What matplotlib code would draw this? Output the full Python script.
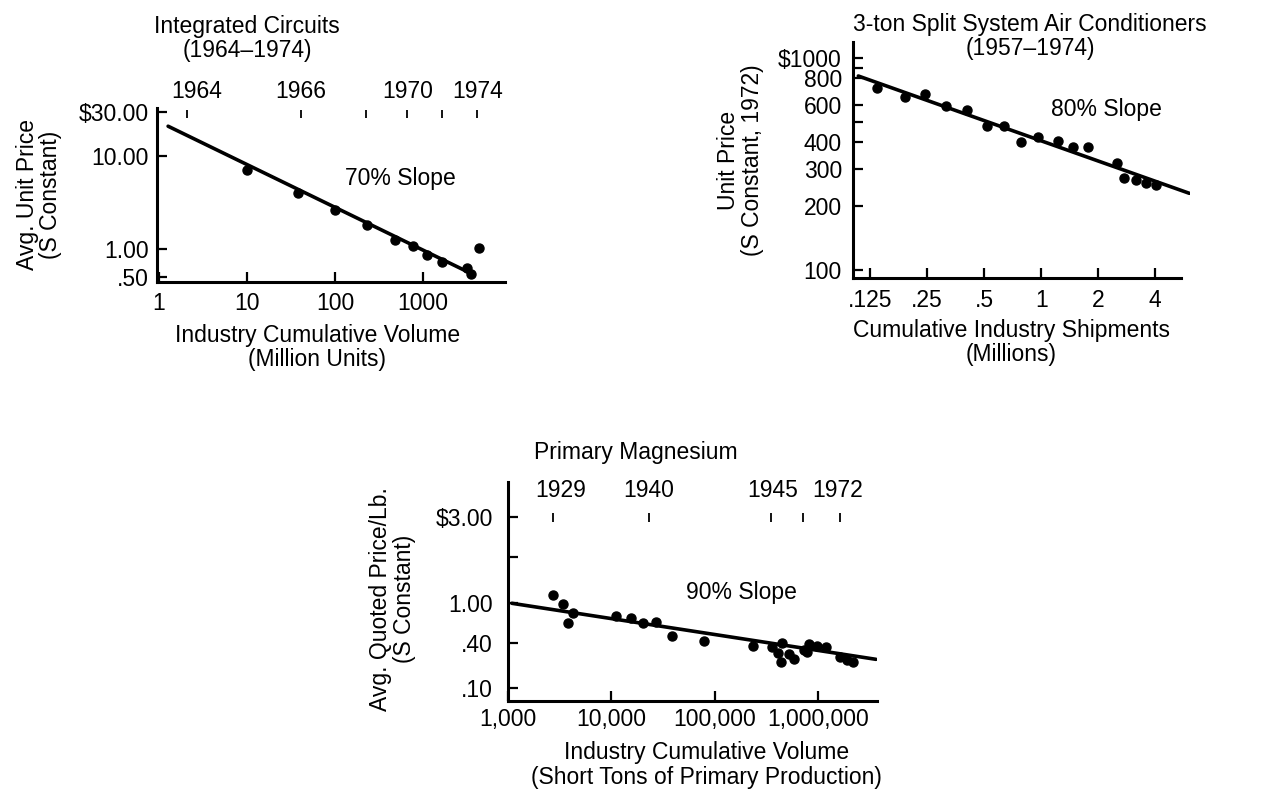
#!/usr/bin/env python3
"""Three experience curves: integrated circuits, air conditioners, magnesium."""
import numpy as np
import matplotlib
matplotlib.use('Agg')
import matplotlib.pyplot as plt
from matplotlib.ticker import NullLocator

plt.rcParams['font.family'] = ['Liberation Sans', 'DejaVu Sans']
plt.rcParams['font.size'] = 16.5

# --- Integrated circuits (1964-1974) ---
ic_volume = [10, 38, 100, 230, 480, 770, 1110, 1640, 3160, 3500, 4330]
ic_price = [7.07, 4.0, 2.63, 1.81, 1.25, 1.08, 0.86, 0.72, 0.62, 0.54, 1.02]
ic_fit_volume = [1.27, 3700]
ic_fit_price = [21, 0.53]
ic_year_tick_volume = [2.08, 41, 225, 660, 1650, 4100]
ic_year_labels = ['1964', '1966', '1970', '1974']
ic_year_label_volume = [2.7, 41, 660, 4200]
ic_xticks = [1, 10, 100, 1000]
ic_xticklabels = ['1', '10', '100', '1000']
ic_yticks = [30, 10, 1, 0.5]
ic_yticklabels = ['$30.00', '10.00', '1.00', '.50']

# --- 3-ton split system air conditioners (1957-1974) ---
ac_shipments = [0.1355, 0.191, 0.243, 0.314, 0.404, 0.518, 0.634, 0.785, 0.96,
                1.225, 1.47, 1.76, 2.52, 2.75, 3.16, 3.57, 4.04]
ac_price = [720, 657, 675, 594, 569, 477, 477, 403, 426,
            407, 382, 382, 319, 271, 266, 258, 252]
ac_fit_shipments = [0.1085, 6.05]
ac_fit_price = [822, 230]
ac_xticks = [0.125, 0.25, 0.5, 1, 2, 4]
ac_xticklabels = ['.125', '.25', '.5', '1', '2', '4']
ac_yticks = [1000, 800, 600, 400, 300, 200, 100]
ac_yticklabels = ['$1000', '800', '600', '400', '300', '200', '100']
ac_yminor = [900, 500]

# --- Primary magnesium ---
mg_volume = [2750, 3380, 3780, 4280, 11000, 15300, 20200, 27100, 38600, 77900,
             235000, 353000, 448000, 406000, 518000, 438000, 588000, 722000,
             779000, 807000, 972000, 1190000, 1630000, 1890000, 2140000]
mg_price = [1.11, 0.984, 0.632, 0.806, 0.748, 0.719, 0.641, 0.656, 0.473, 0.425,
            0.371, 0.360, 0.40, 0.294, 0.288, 0.223, 0.244, 0.325,
            0.309, 0.388, 0.371, 0.353, 0.265, 0.239, 0.223]
mg_fit_volume = [1090, 3.61e6]
mg_fit_price = [1.0, 0.244]
mg_year_tick_volume = [2750, 23300, 351000, 713000, 1620000]
mg_year_labels = ['1929', '1940', '1945', '1972']
mg_year_label_volume = [3230, 22700, 361000, 1520000]
mg_xticks = [1e3, 1e4, 1e5, 1e6]
mg_xticklabels = ['1,000', '10,000', '100,000', '1,000,000']
mg_yticks = [3.0, 1.8, 1.0, 0.4, 0.1]
mg_yticklabels = ['$3.00', '', '1.00', '.40', '.10']

W, H = 1284, 792
fig = plt.figure(figsize=(W / 100, H / 100), dpi=100)


def add_axes_px(left, top, right, bottom):
    return fig.add_axes([left / W, 1 - bottom / H, (right - left) / W, (bottom - top) / H])


def style(ax, xpad, ypad):
    for s in ('top', 'right'):
        ax.spines[s].set_visible(False)
    for s in ('left', 'bottom'):
        ax.spines[s].set_linewidth(2.2)
    ax.xaxis.set_minor_locator(NullLocator())
    ax.yaxis.set_minor_locator(NullLocator())
    ax.tick_params(which='both', direction='in', length=7, width=1.6)
    ax.tick_params(axis='x', pad=xpad)
    ax.tick_params(axis='y', pad=ypad)


def curve(ax, x, y, fx, fy):
    ax.plot(fx, fy, color='black', lw=2.6, solid_capstyle='round')
    ax.plot(x, y, 'o', color='black', ms=6.5)


# Panel 1: integrated circuits
ax1 = add_axes_px(157, 108, 505, 282)
ax1.set_xscale('log')
ax1.set_yscale('log')
ax1.set_xlim(0.95, 8500)
ax1.set_ylim(0.44, 33)
curve(ax1, ic_volume, ic_price, ic_fit_volume, ic_fit_price)
style(ax1, xpad=7, ypad=6)
ax1.set_xticks(ic_xticks, ic_xticklabels)
ax1.set_yticks(ic_yticks, ic_yticklabels)
ax1.vlines(ic_year_tick_volume, 0.943, 0.989, color='black', lw=1.3,
           transform=ax1.get_xaxis_transform(), clip_on=False)
for v, lab in zip(ic_year_label_volume, ic_year_labels):
    ax1.text(v, 1.095, lab, ha='center', va='center',
             transform=ax1.get_xaxis_transform())
ax1.text(0.259, 1.40, 'Integrated Circuits\n(1964–1974)', ha='center', va='center',
         linespacing=1.1, transform=ax1.transAxes)
ax1.text(550, 5.8, '70% Slope', ha='center', va='center')
ax1.set_ylabel('Avg. Unit Price\n(S Constant)', va='center', linespacing=1.0)
ax1.yaxis.set_label_coords(-0.340, 0.5)
ax1.set_xlabel('Industry Cumulative Volume\n(Million Units)', va='center', linespacing=1.1)
ax1.xaxis.set_label_coords(0.46, -0.376)

# Panel 2: air conditioners
ax2 = add_axes_px(853, 42, 1190, 278)
ax2.set_xscale('log')
ax2.set_yscale('log')
ax2.set_xlim(0.1017, 6.1)
ax2.set_ylim(91.7, 1189)
curve(ax2, ac_shipments, ac_price, ac_fit_shipments, ac_fit_price)
style(ax2, xpad=8, ypad=8)
ax2.spines['bottom'].set_bounds(0.1017, 5.5)
ax2.set_xticks(ac_xticks, ac_xticklabels)
ax2.set_yticks(ac_yticks, ac_yticklabels)
ax2.set_yticks(ac_yminor, minor=True)
ax2.text(0.525, 1.023, '3-ton Split System Air Conditioners\n(1957–1974)', ha='center',
         va='center', linespacing=1.1, transform=ax2.transAxes)
ax2.text(2.22, 569, '80% Slope', ha='center', va='center')
ax2.set_ylabel('Unit Price\n(S Constant, 1972)', va='center', linespacing=1.05)
ax2.yaxis.set_label_coords(-0.334, 0.5)
ax2.set_xlabel('Cumulative Industry Shipments\n(Millions)', va='center', linespacing=1.1)
ax2.xaxis.set_label_coords(0.469, -0.273)

# Panel 3: magnesium -- the printed price axis is not evenly logarithmic,
# so map the labelled values onto their printed positions
knot_log = [-6, -1, np.log10(0.4), 0, np.log10(3), 6]
knot_pos = [-1062.05, -688.3, -643.3, -603.3, -516.7, 485.7]


def mg_forward(v):
    v = np.clip(np.asarray(v, dtype=float), 1e-6, 1e6)
    return np.interp(np.log10(v), knot_log, knot_pos)


def mg_inverse(p):
    return 10 ** np.interp(p, knot_pos, knot_log)


ax3 = add_axes_px(508, 482, 877, 700.7)
ax3.set_xscale('log')
ax3.set_yscale('function', functions=(mg_forward, mg_inverse))
ax3.set_xlim(1045, 3.69e6)
ax3.set_ylim(0.0682, 4.66)
curve(ax3, mg_volume, mg_price, mg_fit_volume, mg_fit_price)
style(ax3, xpad=5, ypad=11)
ax3.set_xticks(mg_xticks, mg_xticklabels)
ax3.set_yticks(mg_yticks, mg_yticklabels)
ax3.vlines(mg_year_tick_volume, 0.817, 0.858, color='black', lw=1.3,
           transform=ax3.get_xaxis_transform())
for v, lab in zip(mg_year_label_volume, mg_year_labels):
    ax3.text(v, 0.963, lab, ha='center', va='center',
             transform=ax3.get_xaxis_transform())
ax3.text(0.347, 1.133, 'Primary Magnesium', ha='center', va='center',
         transform=ax3.transAxes)
ax3.text(182000, 1.14, '90% Slope', ha='center', va='center')
ax3.set_ylabel('Avg. Quoted Price/Lb.\n(S Constant)', va='center', linespacing=1.05)
ax3.yaxis.set_label_coords(-0.312, 0.465)
ax3.set_xlabel('Industry Cumulative Volume\n(Short Tons of Primary Production)',
               va='center', linespacing=1.1)
ax3.xaxis.set_label_coords(0.539, -0.294)

fig.savefig('out.png', dpi=100)
